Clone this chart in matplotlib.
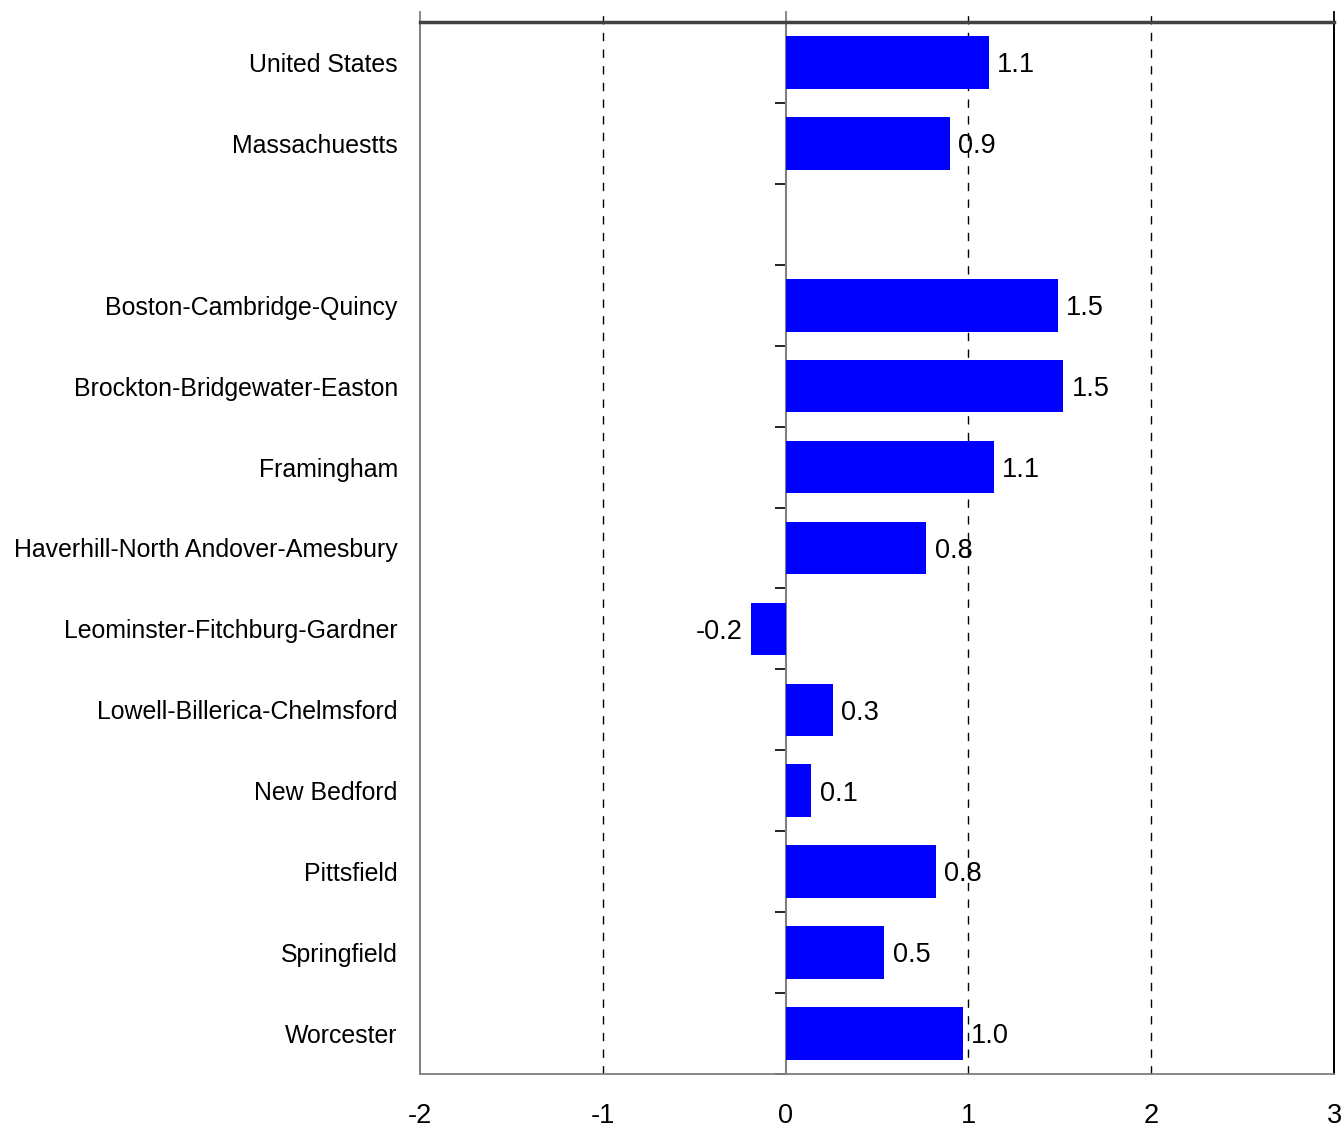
import matplotlib
matplotlib.use('Agg')
import matplotlib.pyplot as plt
import numpy as np

# Annual growth by area, percent
areas = ['United States', 'Massachuestts', '',
         'Boston-Cambridge-Quincy', 'Brockton-Bridgewater-Easton',
         'Framingham', 'Haverhill-North Andover-Amesbury',
         'Leominster-Fitchburg-Gardner', 'Lowell-Billerica-Chelmsford',
         'New Bedford', 'Pittsfield', 'Springfield', 'Worcester']
growth = [1.11, 0.90, np.nan,
          1.49, 1.52,
          1.14, 0.77,
          -0.19, 0.26,
          0.14, 0.82, 0.54, 0.97]
x_ticks = [-2, -1, 0, 1, 2, 3]

plt.rcParams['font.family'] = ['Liberation Sans', 'DejaVu Sans']
fs_lab = 17.9
fs = 19.5

fig = plt.figure(figsize=(13.44, 11.3), dpi=100)
ax = fig.add_axes([0.3125, 0.0496, 0.6801, 0.9309])

pos = np.arange(len(areas))
ax.barh(pos, growth, height=0.65, color='#0000ff', zorder=3)

# value labels beside each bar
for y, v in zip(pos, growth):
    if np.isnan(v):
        continue
    if v >= 0:
        ax.annotate(f'{v:.1f}', (v, y), xytext=(6, -2), textcoords='offset points',
                    ha='left', va='center', fontsize=fs, zorder=4)
    else:
        ax.annotate(f'{v:.1f}', (v, y), xytext=(-6, -2), textcoords='offset points',
                    ha='right', va='center', fontsize=fs, zorder=4)

ax.set_xlim(-2, 3)
ax.set_ylim(len(areas) - 0.5, -0.5)

ax.set_yticks(pos)
ax.set_yticklabels(areas, fontsize=fs_lab)
ax.tick_params(axis='y', length=0, pad=16)
ax.set_xticks(x_ticks)
ax.set_xticklabels([str(t) for t in x_ticks], fontsize=fs)
ax.tick_params(axis='x', length=0, pad=21)

# dashed grid, poking a little above the frame
for t in x_ticks:
    if t in (-2, 0, 3):
        continue
    ax.axvline(t, ymax=1.0095, color='black', lw=1, ls=(0, (6, 6)),
               clip_on=False, zorder=1)
for t in (-2, 0, 3):
    ax.axvline(t, ymax=1.0095, color='#808080' if t != 3 else 'black',
               lw=1.3, clip_on=False, zorder=2)

for side in ('left', 'bottom'):
    ax.spines[side].set_color('#808080')
    ax.spines[side].set_linewidth(1.3)
ax.spines['right'].set_color('black')
ax.spines['right'].set_linewidth(1.3)
ax.spines['top'].set_color('#404040')
ax.spines['top'].set_linewidth(2.5)

# zero line with ticks between the categories
zero = ax.secondary_yaxis(2 / 5)
zero.set_yticks(np.arange(-0.5, len(areas)))
zero.set_yticklabels([])
zero.tick_params(axis='y', length=8, width=1.2, color='black', direction='out')
zero.spines['left'].set_color('#808080')
zero.spines['left'].set_linewidth(1.5)

fig.savefig('out.png', dpi=100)
